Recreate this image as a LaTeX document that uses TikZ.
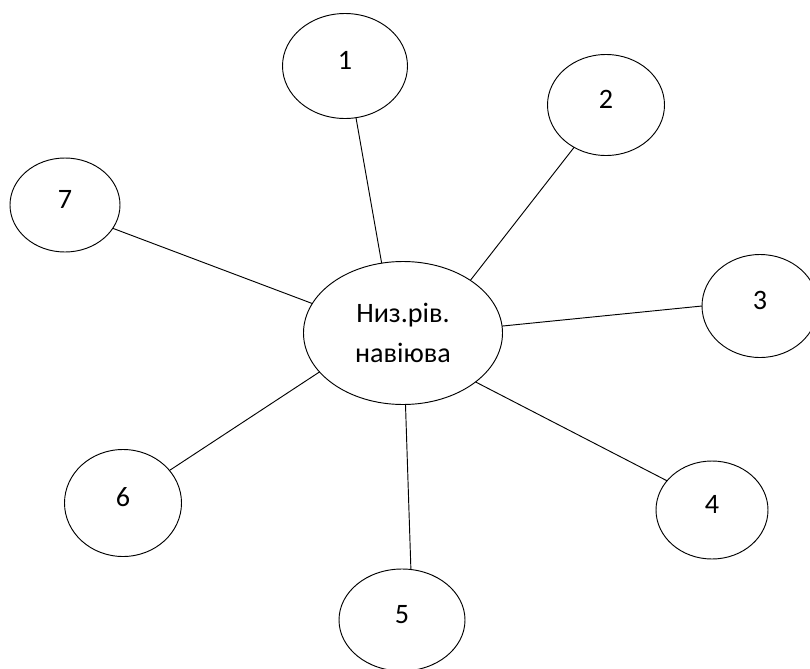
\documentclass[tikz,border=0pt]{standalone}
\usepackage{fontspec}
\setmainfont{Carlito}
\usetikzlibrary{shapes.geometric}

\begin{document}
\begin{tikzpicture}[x=0.03cm, y=-0.03cm,
	bubble/.style={draw, ellipse, line width=0.8pt, inner sep=0pt, outer sep=0pt, font=\fontsize{24}{34}\selectfont},
	numbubble/.style={bubble, text depth=0.36cm}]

\useasboundingbox (0,0) rectangle (810,668);

\node[bubble, align=center, minimum width=5.97cm, minimum height=4.29cm] (hub) at (403,333) {Низ.рів.\\навіюва};

\foreach \name/\x/\y/\w/\h in {1/345/66/125/105, 2/606/105/117/101, 3/760/306/116/103, 4/712/510/112/98, 5/402/620/126/102, 6/123/503/117/107, 7/65/205/110/94}
	\node[numbubble, minimum width=\w*0.03cm, minimum height=\h*0.03cm] (n\name) at (\x,\y) {\name};

\foreach \name/\a/\b in {1/282/107.4, 2/233.3/38.6, 3/180/4, 4/147.2/326.5, 5/80/272.4, 6/35.4/205.8, 7/334.3/162.1}
	\draw[line width=0.8pt] (n\name.\a) -- (hub.\b);

\end{tikzpicture}
\end{document}
